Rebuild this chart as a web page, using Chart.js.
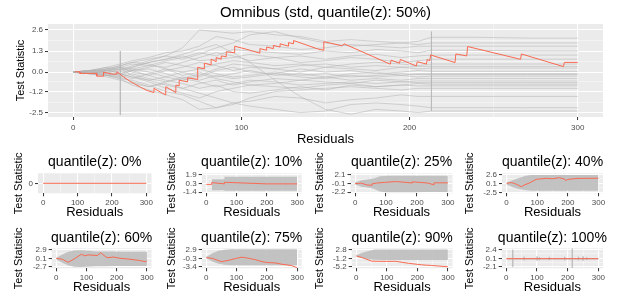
<!DOCTYPE html>
<html>
<head>
<meta charset="utf-8">
<script src="https://cdn.jsdelivr.net/npm/chart.js@4.4.1/dist/chart.umd.min.js"></script>
<style>
  body { margin: 0; background: #fff; }
  #wrap { position: relative; width: 620px; height: 296px; overflow: hidden; }
  canvas { position: absolute; }
</style>
</head>
<body>
<div id="wrap"></div>
<script>
// ---- data ----
const xBreaks = [0, 100, 200, 300];
const xMinorBreaks = [50, 150, 250];

const mainTitle = "Omnibus (std, quantile(z): 50%)";
const mainYTicks = [-2.5, -1.2, 0.0, 1.3, 2.6];
const mainYLabels = ["-2.5", "-1.2", "0.0", "1.3", "2.6"];
const mainYRange = [-2.77, 2.97];

// simulated paths (grey), values read at these residual positions
const mainGridX = [0, 10, 20, 28, 35, 45, 55, 65, 75, 85, 95, 105, 120, 135, 150, 165, 180, 195, 205, 213, 240, 270, 300];
const mainGrey = [
  [0, 0.1, 0.2, 0.4, 0.6, 0.8, 1.0, 1.5, 2.6, 2.5, 2.4, 2.5, 2.3, 2.2, 1.9, 2.0, 1.9, 1.8, 1.9, 2.15, 2.15, 2.1, 2.1],
  [0, 0.1, 0.3, 0.5, 0.7, 0.9, 1.2, 1.3, 1.6, 2.2, 2.0, 1.7, 1.6, 1.4, 1.5, 1.7, 1.6, 1.5, 1.6, 1.6, 1.6, 1.6, 1.6],
  [0, -0.1, 0.2, 0.3, 0.5, 0.4, 0.7, 0.9, 1.2, 1.0, 1.4, 1.3, 1.2, 1.1, 1.3, 1.2, 1.4, 1.3, 1.2, 1.35, 1.35, 1.3, 1.3],
  [0, 0.05, 0.1, 0.0, 0.3, 0.6, 0.8, 1.0, 0.7, 0.8, 0.9, 1.1, 0.9, 1.0, 0.8, 1.0, 1.1, 0.9, 1.0, 1.05, 1.05, 1.05, 1.05],
  [0, 0.1, 0.2, -0.1, 0.2, 0.4, 0.3, 0.6, 0.9, 1.2, 1.0, 0.7, 0.9, 0.6, 0.7, 0.9, 0.8, 0.6, 0.7, 0.8, 0.8, 0.8, 0.8],
  [0, 0, -0.1, 0.2, 0.1, 0.3, 0.6, 0.4, 0.2, 0.5, 0.7, 0.6, 0.4, 0.5, 0.3, 0.5, 0.6, 0.5, 0.4, 0.5, 0.5, 0.5, 0.5],
  [0, 0.1, 0.1, 0.3, 0.0, -0.2, 0.1, 0.3, 0.6, 0.4, 0.1, 0.3, 0.2, 0.0, 0.3, 0.2, 0.1, 0.3, 0.2, 0.25, 0.25, 0.25, 0.25],
  [0, -0.1, 0.0, -0.2, -0.4, -0.1, 0.2, 0.0, -0.3, 0.1, 0.3, 0.0, -0.1, 0.2, 0.0, 0.1, -0.1, 0.0, 0.1, 0.05, 0.05, 0.05, 0.05],
  [0, 0.05, 0.2, 0.4, 0.6, 0.5, 0.2, -0.2, 0.0, -0.3, -0.1, 0.1, -0.2, -0.1, -0.3, -0.1, 0.0, -0.2, -0.1, -0.1, -0.1, -0.1, -0.1],
  [0, -0.1, -0.2, -0.3, -0.1, -0.4, -0.6, -0.3, -0.5, -0.2, -0.4, -0.3, -0.1, -0.3, -0.4, -0.2, -0.3, -0.2, -0.3, -0.25, -0.25, -0.25, -0.25],
  [0, 0.1, 0.0, 0.2, -0.2, -0.5, -0.8, -1.0, -0.7, -0.5, -0.8, -0.6, -0.4, -0.5, -0.3, -0.5, -0.4, -0.5, -0.4, -0.4, -0.4, -0.4, -0.4],
  [0, -0.1, -0.3, -0.5, -0.7, -0.9, -0.6, -0.4, -0.1, -0.4, -0.6, -0.8, -0.7, -0.5, -0.6, -0.7, -0.5, -0.6, -0.55, -0.55, -0.55, -0.55, -0.55],
  [0, 0.0, -0.2, -0.1, -0.3, -0.6, -1.0, -1.3, -1.6, -1.2, -1.0, -0.8, -0.9, -1.0, -0.8, -0.7, -0.9, -0.8, -0.7, -0.75, -0.75, -0.75, -0.75],
  [0, -0.1, -0.2, -0.4, -0.5, -0.8, -1.2, -1.4, -1.8, -2.2, -2.0, -1.6, -1.2, -1.1, -1.0, -0.9, -1.0, -1.1, -1.0, -1.0, -1.0, -1.0, -1.0],
  [0, 0.1, -0.1, -0.3, -0.6, -0.9, -0.7, -1.0, -1.3, -1.6, -1.9, -1.8, -1.5, -1.6, -1.9, -1.7, -1.6, -1.4, -1.5, -1.5, -1.5, -1.5, -1.5],
  [0, 0, -0.2, -0.4, -0.8, -1.1, -1.4, -1.7, -2.3, -2.2, -1.9, -2.1, -2.3, -2.5, -2.4, -2.0, -1.9, -2.0, -2.1, -2.2, -2.2, -2.2, -2.2],
  [0, -0.1, 0.1, 0.2, 0.3, 0.6, 0.8, 1.1, 1.4, 1.7, 1.2, 0.6, -0.5, -1.5, -2.3, -2.6, -2.3, -2.4, -2.5, -2.4, -2.4, -2.4, -2.4],
  [0, 0.1, 0.3, 0.1, 0.4, 0.7, 1.0, 0.8, 1.1, 1.5, 1.8, 2.3, 2.5, 2.1, 1.8, 1.6, 1.7, 1.8, 1.7, 1.8, 1.8, 1.8, 1.8],
  [0, -0.1, 0.1, 0.3, 0.2, 0.0, -0.3, -0.5, -0.2, 0.2, 0.5, 0.4, 0.2, 0.4, 0.5, 0.3, 0.4, 0.3, 0.35, 0.35, 0.35, 0.35, 0.35],
  [0, 0.05, -0.1, -0.2, 0.1, 0.2, -0.1, -0.4, -0.6, -0.9, -0.7, -0.5, -0.6, -0.8, -0.7, -0.6, -0.7, -0.6, -0.65, -0.65, -0.65, -0.65, -0.65],
  [0, 0, 0.1, -0.1, -0.3, -0.5, -0.3, 0.0, 0.2, -0.1, -0.3, -0.2, 0.0, -0.2, -0.1, -0.3, -0.2, -0.1, -0.15, -0.15, -0.15, -0.15, -0.15],
  [0, -0.05, -0.2, -0.1, 0.1, -0.2, -0.5, -0.7, -1.0, -0.8, -1.2, -1.3, -1.1, -0.9, -1.1, -0.8, -0.9, -0.8, -0.85, -0.85, -0.85, -0.85, -0.85]
];
// vertical spikes: [residual, top, bottom]
const mainSpikes = [[28, 1.3, -2.65], [213, 2.5, -2.4]];

// observed path (red), [residual, value]
const mainRed = [
  [1, 0.02], [4, 0.02], [4, -0.08], [14, -0.08], [14, -0.25], [18, -0.25], [18, 0.0], [23, -0.12], [26, -0.12], [26, 0.03],
  [30, -0.3], [34, -0.58], [40, -0.93], [44, -1.14], [48, -1.26], [48, -1.0], [53, -1.3], [55, -1.41], [55, -0.9], [61, -1.26],
  [61, -0.8], [63, -0.85], [63, -0.5], [68, -0.6], [68, -0.35], [74, -0.45], [74, 0.3], [78, 0.2], [78, 0.55], [82, 0.45],
  [82, 0.8], [85, 0.65], [85, 0.9], [88, 0.8], [88, 1.0], [91, 0.95], [91, 1.25], [96, 1.2], [96, 1.6], [103, 1.41],
  [111, 1.17], [111, 1.45], [115, 1.35], [115, 1.55], [119, 1.45], [119, 1.65], [123, 1.55], [123, 1.75], [128, 1.6], [128, 1.82],
  [131, 1.75], [131, 1.95], [146, 1.41], [149, 1.35], [149, 1.88], [160, 1.62], [161, 1.75], [188.5, 0.49], [189, 0.74], [194, 0.55],
  [194.5, 0.78], [204, 0.38], [204.5, 0.64], [210, 0.5], [210.5, 0.78], [212, 0.7], [212.5, 1.06], [227, 0.59], [227.5, 1.12], [234, 1.0],
  [234.5, 1.58], [266, 0.79], [266.5, 1.12], [291.5, 0.34], [292, 0.6], [300, 0.6]
];

// small panels
const smallTitles = ["quantile(z): 0%", "quantile(z): 10%", "quantile(z): 25%", "quantile(z): 40%",
                     "quantile(z): 60%", "quantile(z): 75%", "quantile(z): 90%", "quantile(z): 100%"];
const smallYTicks = [[0], [-1.4, 0.3, 1.9], [-2.2, -0.1, 2.1], [-2.5, 0.1, 2.6],
                     [-2.7, 0.1, 2.9], [-3.4, -0.3, 2.9], [-5.2, -1.2, 2.8], [-2.1, 0.1, 2.4]];
const smallYLabels = [["0"], ["-1.4", "0.3", "1.9"], ["-2.2", "-0.1", "2.1"], ["-2.5", "0.1", "2.6"],
                      ["-2.7", "0.1", "2.9"], ["-3.4", "-0.3", "2.9"], ["-5.2", "-1.2", "2.8"], ["-2.1", "0.1", "2.4"]];
const smallYRange = [[-0.05, 0.05], [-1.6, 2.22], [-2.45, 2.52], [-2.76, 2.96],
                     [-3.13, 3.33], [-3.92, 3.32], [-5.8, 3.4], [-2.48, 2.68]];

// grey envelope of simulated paths: x, upper, lower
const bandX = [0, 10, 20, 40, 60, 80, 100, 130, 160, 190, 220, 250, 280, 300];
const bandQ10X = [18, 60, 60, 300];
const bandQ10Up = [1.06, 1.06, 1.56, 1.56];
const bandQ10Lo = [-1.0, -1.0, -1.1, -1.1];
const bandQ25Up = [0.3, 0.5, 0.8, 1.0, 1.2, 1.8, 1.9, 1.9, 1.9, 1.9, 1.9, 1.9, 1.9, 1.9];
const bandQ25Lo = [-0.3, -0.5, -0.8, -1.0, -1.3, -2.0, -2.2, -2.2, -2.2, -2.2, -2.1, -2.1, -2.1, -2.1];
const bandQ40Up = [0.3, 0.6, 1.0, 1.6, 2.2, 2.5, 2.5, 2.5, 2.5, 2.5, 2.5, 2.5, 2.5, 2.5];
const bandQ40Lo = [-0.3, -0.6, -1.0, -1.5, -1.8, -2.0, -2.0, -2.0, -2.0, -2.0, -2.0, -2.0, -2.0, -2.0];
const bandQ60Up = [0.3, 0.8, 1.3, 2.2, 2.6, 2.7, 2.6, 2.3, 2.3, 2.3, 2.2, 2.2, 2.2, 2.2];
const bandQ60Lo = [-0.3, -0.8, -1.3, -2.2, -2.6, -2.7, -2.6, -2.5, -2.5, -2.4, -2.4, -2.4, -2.4, -2.4];
const bandQ75Up = [0.3, 0.8, 1.5, 2.4, 2.8, 3.0, 3.0, 3.0, 3.0, 3.0, 3.0, 3.0, 3.0, 3.0];
const bandQ75Lo = [-0.3, -0.8, -1.5, -2.3, -2.6, -2.8, -2.8, -2.8, -2.8, -2.8, -2.8, -2.8, -2.8, -2.8];
const bandQ90Up = [0.3, 0.8, 1.4, 2.2, 2.8, 2.9, 2.9, 2.8, 2.8, 2.8, 2.8, 2.8, 2.8, 2.8];
const bandQ90Lo = [-0.3, -0.8, -1.2, -1.6, -1.9, -2.0, -2.0, -2.0, -2.0, -2.0, -2.0, -2.0, -2.0, -2.0];
const bandQ100X = [0, 300];
const bandQ100Up = [0.2, 0.2];
const bandQ100Lo = [-0.2, -0.2];
const spikesQ100 = [[21, 2.3, -2.1], [58, 0.5, -0.4], [100, 0.6, -0.5], [108, 0.4, -0.4], [140, 0.45, -0.35],
                    [190, 0.5, -0.4], [215, 2.6, -2.4], [235, 0.5, -0.4], [250, 0.6, -0.5], [262, 0.35, -0.3]];

const redQ0 = [[0, 0], [300, 0]];
const redQ10 = [[0, 0.11], [18, 0.11], [18, 0.45], [60, 0.2], [60, 0.5], [200, 0.2], [300, 0.2]];
const redQ25 = [[0, 0.0], [10, -0.05], [18, 0.1], [40, -0.4], [55, -0.45], [55, -0.1], [70, 0.1], [95, 0.25], [130, 0.47],
                [160, 0.3], [185, 0.1], [185, 0.4], [235, 0.1], [255, -0.35], [255, 0.15], [300, 0.15]];
const redQ40 = [[0, 0.1], [15, 0.3], [25, 0.1], [35, -0.3], [48, -0.87], [60, -0.3], [75, 0.2], [97, 1.24], [130, 1.53],
                [150, 1.4], [172, 1.7], [190, 1.3], [193, 0.9], [200, 1.2], [230, 1.5], [300, 1.55]];
const redQ60 = [[0, 0.1], [20, -0.2], [40, -1.19], [61, 0.0], [83, 1.39], [95, 0.9], [105, 1.2], [136, 1.0], [147, 1.9],
                [158, 1.0], [168, 0.3], [190, 0.5], [211, 0.1], [235, -0.1], [275, -0.6], [296, -1.0], [300, -0.7]];
const redQ75 = [[0, -0.08], [20, -0.3], [50, -1.53], [75, -1.0], [100, -0.3], [118, 0.1], [140, -0.3], [162, -0.8],
                [184, -1.5], [200, -1.8], [230, -2.0], [250, -2.47], [280, -2.9], [300, -3.7]];
const redQ90 = [[0, -0.14], [20, -0.9], [50, -2.5], [75, -2.6], [129, -2.6], [171, -3.5], [214, -4.2], [246, -4.5], [300, -5.1]];
const redQ100 = [[0, 0], [300, 0]];

// ---- drawing ----
const FONT = "'Liberation Sans', Arial, sans-serif";
const RED = "#F96A52";
const GREY = "rgba(180,180,180,0.55)";
const BAND = "rgba(192,192,192,0.95)";

const panelBg = {
  id: "panelBg",
  beforeDraw(chart) {
    const a = chart.chartArea, c = chart.ctx;
    c.save();
    c.fillStyle = "#EBEBEB";
    c.fillRect(a.left, a.top, a.right - a.left, a.bottom - a.top);
    c.restore();
  },
  afterDraw(chart, args, opts) {
    const a = chart.chartArea, c = chart.ctx;
    c.save();
    c.font = opts.size + "px " + FONT;
    c.fillStyle = "#000";
    c.textAlign = "center";
    c.textBaseline = "middle";
    c.fillText(opts.text, (a.left + a.right) / 2, opts.y);
    c.restore();
  }
};

const toPts = arr => arr.map(p => ({ x: p[0], y: p[1] }));
const zipPts = (xs, ys) => xs.map((x, i) => ({ x: x, y: ys[i] }));

function lineSet(data, color, extra) {
  return Object.assign({ data: data, borderColor: color, borderWidth: 1, pointRadius: 0, fill: false }, extra || {});
}
function spikeSets(spikes) {
  return spikes.map(s => lineSet([{ x: s[0], y: s[1] }, { x: s[0], y: s[2] }], GREY));
}
function bandSets(xs, up, lo) {
  return [
    lineSet(zipPts(xs, up), "rgba(0,0,0,0)", { fill: "+1", backgroundColor: BAND, borderWidth: 0 }),
    lineSet(zipPts(xs, lo), "rgba(0,0,0,0)", { borderWidth: 0 })
  ];
}

function makePanel(box, p) {
  const cv = document.createElement("canvas");
  cv.width = box.w; cv.height = box.h;
  cv.style.left = box.x0 + "px"; cv.style.top = box.y0 + "px";
  document.getElementById("wrap").appendChild(cv);

  const yMinor = p.yTicks.slice(1).map((v, i) => (v + p.yTicks[i]) / 2);
  const xlh = box.axisSize * 1.2, ylh = box.yAxisSize * 1.2;
  const grid = {
    color: c => (c.tick && c.tick.minor) ? "rgba(255,255,255,0.7)" : "#FFFFFF",
    lineWidth: c => (c.tick && c.tick.minor) ? 0.6 : 1.1,
    tickLength: 3,
    tickColor: c => (c.tick && c.tick.minor) ? "rgba(0,0,0,0)" : "#333333",
    tickWidth: 1
  };
  const tickFont = { family: FONT, size: box.tickSize };

  new Chart(cv, {
    type: "line",
    data: { datasets: p.datasets },
    options: {
      responsive: false,
      animation: false,
      devicePixelRatio: 1,
      events: [],
      layout: { padding: { left: 0, top: box.T - box.y0, right: box.x0 + box.w - box.R, bottom: 0 } },
      plugins: {
        legend: { display: false },
        tooltip: { enabled: false },
        panelBg: { text: p.title, size: box.titleSize, y: box.titleY - box.y0 }
      },
      scales: {
        x: {
          type: "linear", min: -15, max: 315,
          border: { display: false },
          grid: grid,
          ticks: {
            autoSkip: false, maxRotation: 0, font: tickFont, color: "#4D4D4D", padding: box.tickPad,
            callback: (v, i, ticks) => ticks[i].minor ? "" : String(v)
          },
          afterBuildTicks: s => {
            s.ticks = xBreaks.map(v => ({ value: v })).concat(xMinorBreaks.map(v => ({ value: v, minor: true })))
              .sort((a, b) => a.value - b.value);
          },
          afterFit: s => { s.height = box.y0 + box.h - box.B; s.paddingLeft = 0; s.paddingRight = 0; },
          title: {
            display: true, text: "Residuals", color: "#000", font: { family: FONT, size: box.axisSize },
            padding: { top: 0, bottom: box.y0 + box.h - box.xTitleY - xlh / 2 }
          }
        },
        y: {
          type: "linear", min: p.yRange[0], max: p.yRange[1],
          border: { display: false },
          grid: grid,
          ticks: {
            autoSkip: false, font: tickFont, color: "#4D4D4D", padding: 2,
            callback: (v, i, ticks) => ticks[i].minor ? "" : p.yLabels[p.yTicks.indexOf(v)]
          },
          afterBuildTicks: s => {
            s.ticks = p.yTicks.map(v => ({ value: v })).concat(yMinor.map(v => ({ value: v, minor: true })))
              .sort((a, b) => a.value - b.value);
          },
          afterFit: s => { s.width = box.L - box.x0; s.paddingTop = 0; s.paddingBottom = 0; },
          title: {
            display: true, text: "Test Statistic", color: "#000", font: { family: FONT, size: box.yAxisSize },
            padding: { top: box.yTitleX - box.x0 - ylh / 2, bottom: 0 }
          }
        }
      }
    },
    plugins: [panelBg]
  });
}

// main panel
const mainSets = [lineSet(toPts(mainRed), RED)]
  .concat(spikeSets(mainSpikes))
  .concat(mainGrey.map(ys => lineSet(zipPts(mainGridX, ys), GREY)));
makePanel(
  { x0: 0, y0: 0, w: 620, h: 150, L: 48, R: 603, T: 24, B: 117, titleY: 13, yTitleX: 20.7, xTitleY: 139.5,
    titleSize: 15, axisSize: 13, yAxisSize: 11, tickSize: 8, tickPad: 3 },
  { title: mainTitle, yTicks: mainYTicks, yLabels: mainYLabels, yRange: mainYRange, datasets: mainSets }
);

// small panels
const smallSets = [
  [lineSet(toPts(redQ0), RED)],
  [lineSet(toPts(redQ10), RED)].concat(bandSets(bandQ10X, bandQ10Up, bandQ10Lo)),
  [lineSet(toPts(redQ25), RED)].concat(bandSets(bandX, bandQ25Up, bandQ25Lo)),
  [lineSet(toPts(redQ40), RED)].concat(bandSets(bandX, bandQ40Up, bandQ40Lo)),
  [lineSet(toPts(redQ60), RED)].concat(bandSets(bandX, bandQ60Up, bandQ60Lo)),
  [lineSet(toPts(redQ75), RED)].concat(bandSets(bandX, bandQ75Up, bandQ75Lo)),
  [lineSet(toPts(redQ90), RED)].concat(bandSets(bandX, bandQ90Up, bandQ90Lo)),
  [lineSet(toPts(redQ100), RED)].concat(spikeSets(spikesQ100)).concat(bandSets(bandQ100X, bandQ100Up, bandQ100Lo))
];
const colX0 = [0, 150, 300, 450];
const colL = [38, 201.7, 350.5, 502, 51.7, 201.7, 351.7, 501.7];
const colR = [151.5, 301.7, 452.5, 603];
const colYTitle = [19, 172, 320, 470];
const rows = [
  { y0: 148, h: 74, T: 173.3, B: 193.3, titleY: 162, xTitleY: 212.7 },
  { y0: 224, h: 72, T: 248.3, B: 268.3, titleY: 237.7, xTitleY: 287.7 }
];
for (let i = 0; i < 8; i++) {
  const r = rows[Math.floor(i / 4)], c = i % 4;
  makePanel(
    { x0: colX0[c], y0: r.y0, w: 170, h: r.h, L: colL[i], R: colR[c], T: r.T, B: r.B,
      titleY: r.titleY, yTitleX: colYTitle[c], xTitleY: r.xTitleY,
      titleSize: 14, axisSize: 13, yAxisSize: 11, tickSize: 8, tickPad: 2 },
    { title: smallTitles[i], yTicks: smallYTicks[i], yLabels: smallYLabels[i], yRange: smallYRange[i], datasets: smallSets[i] }
  );
}
</script>
</body>
</html>
